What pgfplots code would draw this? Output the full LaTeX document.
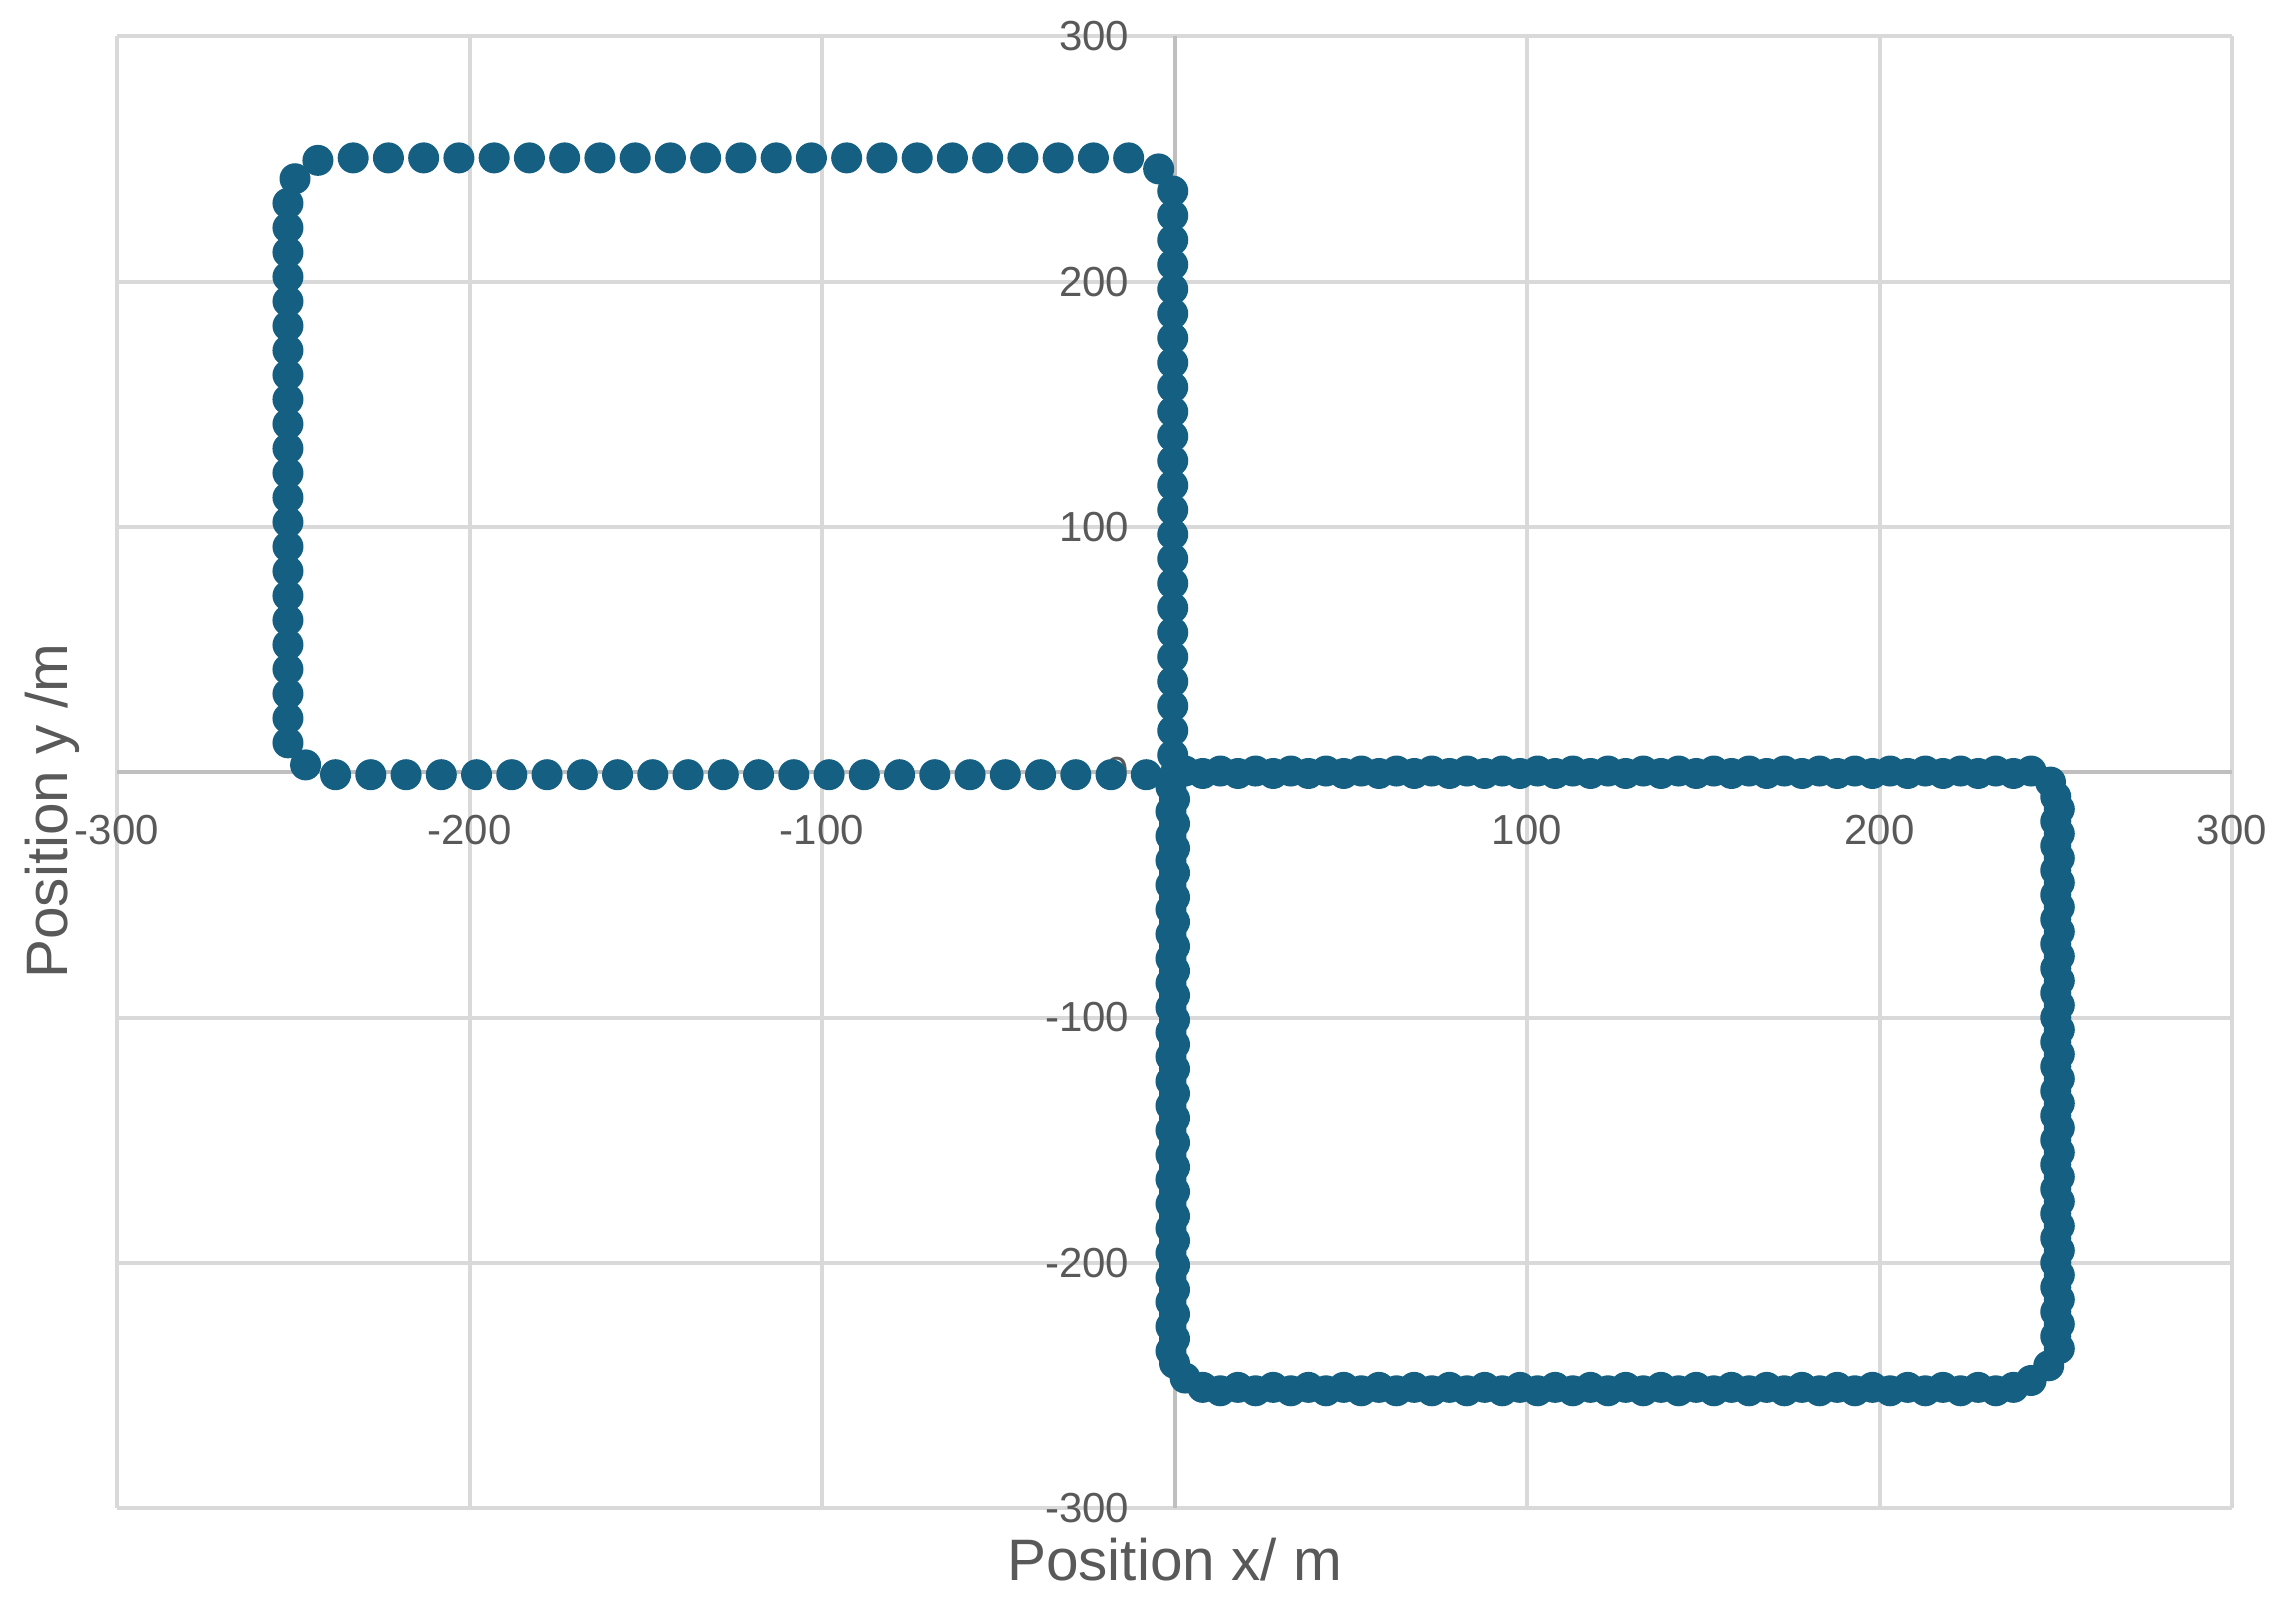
\documentclass[border=0pt]{standalone}
\usepackage{fontspec}
\setmainfont{Liberation Sans}
\usepackage{pgfplots}
\pgfplotsset{compat=1.18}
\pgfplotsset{layers/mylayers/.define layer set={axis background,axis grid,axis ticks,axis lines,main,axis tick labels,axis descriptions,axis foreground}{}}
\definecolor{markblue}{HTML}{156082}
\definecolor{gridgray}{HTML}{D9D9D9}
\definecolor{axisgray}{HTML}{BFBFBF}
\definecolor{labelgray}{HTML}{595959}
\begin{document}
\begin{tikzpicture}
\begin{axis}[
  set layers=mylayers,
  scale only axis,
  width=423pt, height=294.3pt,
  axis lines=middle,
  axis line style={draw=axisgray, line width=0.8pt, -},
  xmin=-300, xmax=300, ymin=-300, ymax=300,
  xtick={-300,-200,...,300}, ytick={-300,-200,...,300},
  grid=major,
  major grid style={draw=gridgray, line width=0.8pt},
  major tick length=0pt,
  tick style={draw=none},
  hide obscured x ticks=false,
  hide obscured y ticks=false,
  /pgf/number format/assume math mode=true,
  ticklabel style={font=\fontsize{8.4}{10}\selectfont, text=labelgray},
  xticklabel style={yshift=-5pt},
  yticklabel style={xshift=-5.5pt},
]
\addplot[only marks, mark=*, mark size=2.9pt, color=markblue, mark options={fill=markblue, draw=markblue}] coordinates {
(-8,-1) (-18,-1) (-28,-1) (-38,-1) (-48,-1) (-58,-1) (-68,-1) (-78,-1) (-88,-1) (-98,-1) (-108,-1) (-118,-1) (-128,-1) (-138,-1) (-148,-1) (-158,-1) (-168,-1) (-178,-1) (-188,-1) (-198,-1) (-208,-1) (-218,-1) (-228,-1) (-238,-1)
(-246.5,3)
(-251.5,12) (-251.5,22) (-251.5,32) (-251.5,42) (-251.5,52) (-251.5,62) (-251.5,72) (-251.5,82) (-251.5,92) (-251.5,102) (-251.5,112) (-251.5,122) (-251.5,132) (-251.5,142) (-251.5,152) (-251.5,162) (-251.5,172) (-251.5,182) (-251.5,192) (-251.5,202) (-251.5,212) (-251.5,222) (-251.5,232)
(-249.5,242)
(-243,249.5) (-233,250.5) (-223,250.5) (-213,250.5) (-203,250.5) (-193,250.5) (-183,250.5) (-173,250.5) (-163,250.5) (-153,250.5) (-143,250.5) (-133,250.5) (-123,250.5) (-113,250.5) (-103,250.5) (-93,250.5) (-83,250.5) (-73,250.5) (-63,250.5) (-53,250.5) (-43,250.5) (-33,250.5) (-23,250.5) (-13,250.5)
(-4.5,246)
(-0.5,237) (-0.5,227) (-0.5,217) (-0.5,207) (-0.5,197) (-0.5,187) (-0.5,177) (-0.5,167) (-0.5,157) (-0.5,147) (-0.5,137) (-0.5,127) (-0.5,117) (-0.5,107) (-0.5,97) (-0.5,87) (-0.5,77) (-0.5,67) (-0.5,57) (-0.5,47) (-0.5,37) (-0.5,27) (-0.5,17) (-0.5,7)
(0,-1)
(3,0.5) (8,-0.5) (13,0.5) (18,-0.5) (23,0.5) (28,-0.5) (33,0.5) (38,-0.5) (43,0.5) (48,-0.5) (53,0.5) (58,-0.5) (63,0.5) (68,-0.5) (73,0.5) (78,-0.5) (83,0.5) (88,-0.5) (93,0.5) (98,-0.5) (103,0.5) (108,-0.5) (113,0.5) (118,-0.5) (123,0.5) (128,-0.5) (133,0.5) (138,-0.5) (143,0.5) (148,-0.5) (153,0.5) (158,-0.5) (163,0.5) (168,-0.5) (173,0.5) (178,-0.5) (183,0.5) (188,-0.5) (193,0.5) (198,-0.5) (203,0.5) (208,-0.5) (213,0.5) (218,-0.5) (223,0.5) (228,-0.5) (233,0.5) (238,-0.5) (243,0.5)
(248.5,-4)
(250,-10) (251,-15) (250,-20) (251,-25) (250,-30) (251,-35) (250,-40) (251,-45) (250,-50) (251,-55) (250,-60) (251,-65) (250,-70) (251,-75) (250,-80) (251,-85) (250,-90) (251,-95) (250,-100) (251,-105) (250,-110) (251,-115) (250,-120) (251,-125) (250,-130) (251,-135) (250,-140) (251,-145) (250,-150) (251,-155) (250,-160) (251,-165) (250,-170) (251,-175) (250,-180) (251,-185) (250,-190) (251,-195) (250,-200) (251,-205) (250,-210) (251,-215) (250,-220) (251,-225) (250,-230) (251,-235)
(248,-242) (243,-248)
(238,-250.8) (233,-252.2) (228,-250.8) (223,-252.2) (218,-250.8) (213,-252.2) (208,-250.8) (203,-252.2) (198,-250.8) (193,-252.2) (188,-250.8) (183,-252.2) (178,-250.8) (173,-252.2) (168,-250.8) (163,-252.2) (158,-250.8) (153,-252.2) (148,-250.8) (143,-252.2) (138,-250.8) (133,-252.2) (128,-250.8) (123,-252.2) (118,-250.8) (113,-252.2) (108,-250.8) (103,-252.2) (98,-250.8) (93,-252.2) (88,-250.8) (83,-252.2) (78,-250.8) (73,-252.2) (68,-250.8) (63,-252.2) (58,-250.8) (53,-252.2) (48,-250.8) (43,-252.2) (38,-250.8) (33,-252.2) (28,-250.8) (23,-252.2) (18,-250.8) (13,-252.2) (8,-250.8)
(3,-247) (0,-241)
(-1,-236) (0,-231) (-1,-226) (0,-221) (-1,-216) (0,-211) (-1,-206) (0,-201) (-1,-196) (0,-191) (-1,-186) (0,-181) (-1,-176) (0,-171) (-1,-166) (0,-161) (-1,-156) (0,-151) (-1,-146) (0,-141) (-1,-136) (0,-131) (-1,-126) (0,-121) (-1,-116) (0,-111) (-1,-106) (0,-101) (-1,-96) (0,-91) (-1,-86) (0,-81) (-1,-76) (0,-71) (-1,-66) (0,-61) (-1,-56) (0,-51) (-1,-46) (0,-41) (-1,-36) (0,-31) (-1,-26) (0,-21) (-1,-16) (0,-11) (-1,-6)
};
\end{axis}
\node[anchor=north, text=labelgray, font=\fontsize{11.7}{14}\selectfont, inner sep=3.33pt] at ([yshift=-2.5pt]current axis.south) {Position x/ m};
\node[anchor=south, rotate=90, text=labelgray, font=\fontsize{11.7}{14}\selectfont, inner sep=3.33pt] at ([xshift=-4pt,yshift=-7.8pt]current axis.west) {Position y /m};
\pgfresetboundingbox
\path[use as bounding box] ([xshift=-23.4pt,yshift=-19.2pt]current axis.south west) rectangle ([xshift=11.8pt,yshift=7.3pt]current axis.north east);
\end{tikzpicture}
\end{document}
